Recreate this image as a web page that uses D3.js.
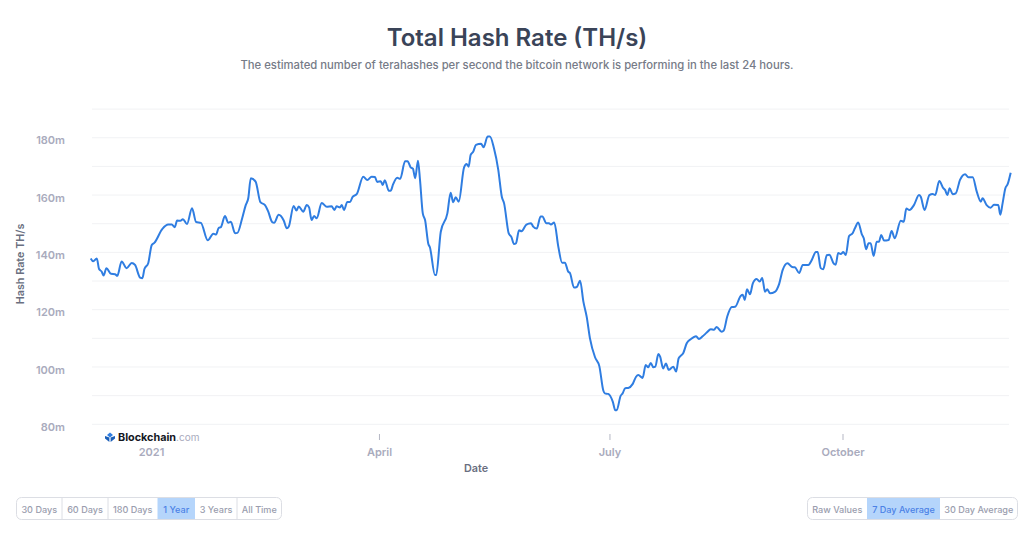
<!DOCTYPE html>
<html>
<head>
<meta charset="UTF-8">
<style>
body { margin: 0; background: #fff; }
svg { display: block; font-family: Inter, "Noto Sans", sans-serif; }
</style>
</head>
<body>
<svg width="1024" height="533"></svg>
<script src="https://cdn.jsdelivr.net/npm/d3@7"></script>
<script>

// days since 2021-01-01
var days = [-23.8,-22.8,-21.4,-20.5,-19.5,-18.7,-17.6,-15.8,-14.2,-13.3,-11.6,-9.6,-7.6,-6.3,-4.3,-3.4,-2.6,-1.1,0.3,1.3,
  4.5,6.8,8.2,9.4,10.3,11.6,12.6,14.2,16.2,17.8,19.7,22.4,24.6,25.7,26.7,27.6,29.2,30.5,31.5,33.2,
  34.1,36.0,37.4,38.4,39.4,41.3,43.2,45.0,46.3,47.8,48.6,50.4,52.4,53.6,54.4,56.3,57.4,58.3,60.1,61.5,
  62.4,63.4,64.4,65.4,67.4,69.4,71.3,72.4,73.3,74.6,75.3,76.2,77.5,78.6,79.6,81.2,83.8,85.4,87.1,88.4,
  89.3,90.7,91.5,92.3,93.9,94.6,95.6,97.2,98.4,100.3,101.3,102.5,103.4,104.3,105.4,106.2,107.3,108.2,109.5,110.1,
  112.1,112.6,114.4,117.0,118.3,119.3,120.3,121.5,123.6,124.6,125.4,126.2,127.2,128.3,130.3,131.3,132.9,133.8,135.4,137.1,
  138.5,139.4,141.2,142.3,143.3,144.1,145.3,146.3,148.2,150.0,150.9,152.3,153.8,154.5,156.1,157.1,157.9,159.2,160.8,162.3,
  163.4,164.7,165.4,167.0,168.1,169.4,170.7,172.0,173.3,175.3,177.0,178.6,179.2,180.5,182.3,183.3,183.9,185.4,186.2,187.2,
  188.4,190.2,191.5,192.4,194.1,195.3,196.3,197.3,198.3,199.1,200.3,201.0,202.2,203.3,204.4,206.2,207.3,208.3,209.1,210.1,
  211.5,213.1,215.2,216.3,217.8,219.4,221.0,222.3,223.3,225.3,226.1,227.5,229.3,230.6,232.8,233.6,234.4,235.3,236.5,237.6,
  239.1,240.4,241.3,242.4,243.3,244.4,246.3,248.0,249.4,251.3,253.1,254.2,255.9,257.3,259.5,260.8,262.5,263.2,264.4,265.4,
  266.8,267.8,269.6,270.3,271.3,272.3,273.3,274.3,275.6,277.0,277.9,279.2,280.6,281.4,282.3,283.3,284.1,285.3,286.5,287.4,
  288.3,289.4,291.2,292.4,293.6,296.0,297.2,298.2,299.4,301.2,303.2,303.9,305.4,307.3,308.6,309.6,311.2,312.8,313.5,314.4,
  315.3,316.5,317.7,319.4,321.4,322.7,324.4,326.0,327.6,328.3,329.9,331.5,332.8,334.5,335.3,336.2,337.3,338.2,339.4];

// millions of TH/s
var hashRate = [137.9,136.9,137.9,134.2,133.3,131.9,134.5,132.5,132.4,131.8,136.8,134.5,136.3,135.6,131.2,131.0,134.2,136.2,142.6,143.3,
  148.2,149.7,149.7,148.8,151.1,151.0,151.6,149.9,155.4,150.6,150.3,144.2,146.5,146.2,148.5,148.8,152.7,150.3,150.7,146.7,
  146.8,151.9,156.5,158.9,165.9,164.7,157.5,156.5,154.2,150.6,150.3,153.1,151.1,148.4,149.0,156.2,154.6,156.0,154.2,156.5,
  155.7,151.3,152.7,151.9,157.2,155.9,156.1,154.8,156.1,155.7,156.5,154.8,157.6,157.6,159.4,160.3,166.4,165.3,166.4,166.3,
  164.6,164.8,163.5,165.2,161.5,161.5,163.8,166.0,165.7,171.8,171.8,169.7,169.2,165.9,172.0,165.3,153.6,151.3,142.9,141.8,
  132.1,132.1,147.2,153.6,160.8,157.5,159.2,157.7,169.7,170.8,169.9,174.0,175.1,177.5,177.9,176.7,180.4,180.4,176.3,168.8,
  159.4,157.1,146.7,145.3,142.9,143.2,147.7,147.4,149.7,150.2,149.0,148.3,152.5,152.5,150.2,150.2,149.7,150.4,142.0,136.4,
  136.4,133.3,132.8,127.7,127.9,130.1,122.8,117.6,110.0,103.4,100.3,91.7,90.8,90.6,87.9,84.9,85.0,89.9,90.8,92.6,
  92.7,94.1,96.6,97.2,96.2,100.7,99.9,101.4,99.9,100.1,104.5,103.6,99.5,101.2,99.0,100.1,98.4,103.0,103.9,104.8,
  108.3,109.7,110.7,109.8,110.7,112.0,113.2,113.0,114.0,112.3,112.7,117.6,120.9,121.0,124.8,125.2,123.4,127.1,125.4,129.2,
  130.7,129.8,131.1,126.3,127.1,125.7,126.2,129.0,133.9,136.2,134.9,134.8,132.8,135.6,135.6,137.2,140.1,140.1,134.5,134.1,
  139.0,139.2,136.0,135.7,139.8,139.4,140.1,139.1,145.7,146.7,148.4,150.4,146.4,144.9,141.1,143.2,143.2,138.7,143.7,143.7,
  146.1,144.1,144.3,147.5,144.9,151.0,150.7,155.3,154.8,156.5,160.0,159.4,154.8,160.0,160.4,160.0,164.9,162.4,161.8,160.0,
  162.4,160.3,160.6,165.3,167.3,166.2,166.2,161.2,157.7,158.9,156.5,155.6,156.6,156.5,153.1,157.1,162.4,163.8,167.8];

var gridValues = d3.range(80, 191, 10);
var yTickValues = [80, 100, 120, 140, 160, 180];
var xTickDates = [Date.UTC(2021, 0, 1), Date.UTC(2021, 3, 1), Date.UTC(2021, 6, 1), Date.UTC(2021, 9, 1)];
var xTickLabels = ["2021", "April", "July", "October"];
var rangeButtons = ["30 Days", "60 Days", "180 Days", "1 Year", "3 Years", "All Time"];
var averageButtons = ["Raw Values", "7 Day Average", "30 Day Average"];

var svg = d3.select("svg");

var x = d3.scaleUtc()
  .domain([xTickDates[0], xTickDates[3]])
  .range([151, 842.5]);

var y = d3.scaleLinear()
  .domain([80, 190])
  .range([424.3, 109.1]);

var dates = days.map(function(d) { return new Date(xTickDates[0] + d * 864e5); });

// title
svg.append("text")
  .attr("x", 517).attr("y", 46)
  .attr("text-anchor", "middle")
  .attr("font-size", 24).attr("font-weight", 600)
  .attr("fill", "#3a4458")
  .text("Total Hash Rate (TH/s)");

svg.append("text")
  .attr("x", 517).attr("y", 69)
  .attr("text-anchor", "middle")
  .attr("font-size", 11.28).attr("font-weight", 500)
  .attr("fill", "#767b87")
  .text("The estimated number of terahashes per second the bitcoin network is performing in the last 24 hours.");

// grid
svg.append("g")
  .selectAll("line")
  .data(gridValues)
  .enter().append("line")
  .attr("x1", 92).attr("x2", 1009)
  .attr("y1", function(d) { return y(d); })
  .attr("y2", function(d) { return y(d); })
  .attr("stroke", "#f1f2f4");

// y axis
var yAxis = svg.append("g")
  .attr("transform", "translate(65,0)")
  .call(d3.axisLeft(y).tickValues(yTickValues).tickSize(0).tickPadding(0).tickFormat(function(d) { return d + "m"; }));
yAxis.select(".domain").remove();
yAxis.selectAll("text")
  .attr("dy", "0.55em")
  .attr("font-family", "Inter, sans-serif")
  .attr("font-size", 11).attr("font-weight", 600)
  .attr("fill", "#a9abbd");

svg.append("text")
  .attr("transform", "translate(24,264) rotate(-90)")
  .attr("text-anchor", "middle")
  .attr("font-size", 10.8).attr("font-weight", 600)
  .attr("fill", "#6a6f80")
  .text("Hash Rate TH/s");

// x axis
var xAxis = svg.append("g")
  .attr("transform", "translate(0,434)")
  .call(d3.axisBottom(x).tickValues(xTickDates).tickSize(6).tickPadding(8).tickFormat(function(d, i) { return xTickLabels[i]; }));
xAxis.select(".domain").remove();
xAxis.selectAll("line").attr("stroke", "#b5b7c4");
xAxis.selectAll("text")
  .attr("font-family", "Inter, sans-serif")
  .attr("font-size", 11).attr("font-weight", 600)
  .attr("fill", "#a9abbd");

svg.append("text")
  .attr("x", 476).attr("y", 472)
  .attr("text-anchor", "middle")
  .attr("font-size", 10.8).attr("font-weight", 600)
  .attr("fill", "#6a6f80")
  .text("Date");

// line
var line = d3.line()
  .x(function(d, i) { return x(dates[i]); })
  .y(function(d) { return y(d); })
  .curve(d3.curveMonotoneX);

svg.append("path")
  .datum(hashRate)
  .attr("fill", "none")
  .attr("stroke", "#2f7de1")
  .attr("stroke-width", 2)
  .attr("stroke-linejoin", "round")
  .attr("d", line);

// logo, covers the 2021 tick like the original
var logo = svg.append("g");
logo.append("rect")
  .attr("x", 103).attr("y", 431).attr("width", 94).attr("height", 12)
  .attr("fill", "#fff");
logo.append("path").attr("fill", "#2f7de1").attr("d", "M110 432.5l3 2.5l-3 2.5l-3-2.5z");
logo.append("path").attr("fill", "#1b5fb8").attr("d", "M105 436l4.4 1.6v4.4l-4.4-3.6z");
logo.append("path").attr("fill", "#1b5fb8").attr("d", "M115 436l-4.4 1.6v4.4l4.4-3.6z");
logo.append("text")
  .attr("x", 118).attr("y", 441)
  .attr("font-size", 10.8).attr("font-weight", 700)
  .attr("fill", "#14171f")
  .text("Blockchain")
  .append("tspan")
  .attr("font-size", 10)
  .attr("font-weight", 400)
  .attr("fill", "#a9abbd")
  .text(".com");

// button groups
function buttonGroup(labels, edges, active) {
  var g = svg.append("g");
  var top = 497.5, h = 22;
  g.selectAll("rect.seg")
    .data(labels)
    .enter().append("rect")
    .attr("class", "seg")
    .attr("x", function(d, i) { return edges[i]; })
    .attr("y", top)
    .attr("width", function(d, i) { return edges[i + 1] - edges[i]; })
    .attr("height", h)
    .attr("fill", function(d) { return d === active ? "#b5d5fb" : "none"; });
  g.append("rect")
    .attr("x", edges[0]).attr("y", top)
    .attr("width", edges[edges.length - 1] - edges[0]).attr("height", h)
    .attr("rx", 5)
    .attr("fill", "none")
    .attr("stroke", "#dcdee4");
  g.selectAll("line")
    .data(edges.slice(1, -1))
    .enter().append("line")
    .attr("x1", function(d) { return d; }).attr("x2", function(d) { return d; })
    .attr("y1", top).attr("y2", top + h)
    .attr("stroke", function(d, i) {
      return labels[i] === active || labels[i + 1] === active ? "none" : "#dcdee4";
    });
  g.selectAll("text")
    .data(labels)
    .enter().append("text")
    .attr("x", function(d, i) { return (edges[i] + edges[i + 1]) / 2; })
    .attr("y", top + 15)
    .attr("text-anchor", "middle")
    .attr("font-size", 9.1).attr("font-weight", 500)
    .attr("fill", function(d) { return d === active ? "#4c82e6" : "#9a9dae"; })
    .text(function(d) { return d; });
}

buttonGroup(rangeButtons, [16.5, 62, 108, 157.5, 195, 237, 281.5], "1 Year");
buttonGroup(averageButtons, [807.5, 867, 940, 1017.5], "7 Day Average");

</script>
</body>
</html>
